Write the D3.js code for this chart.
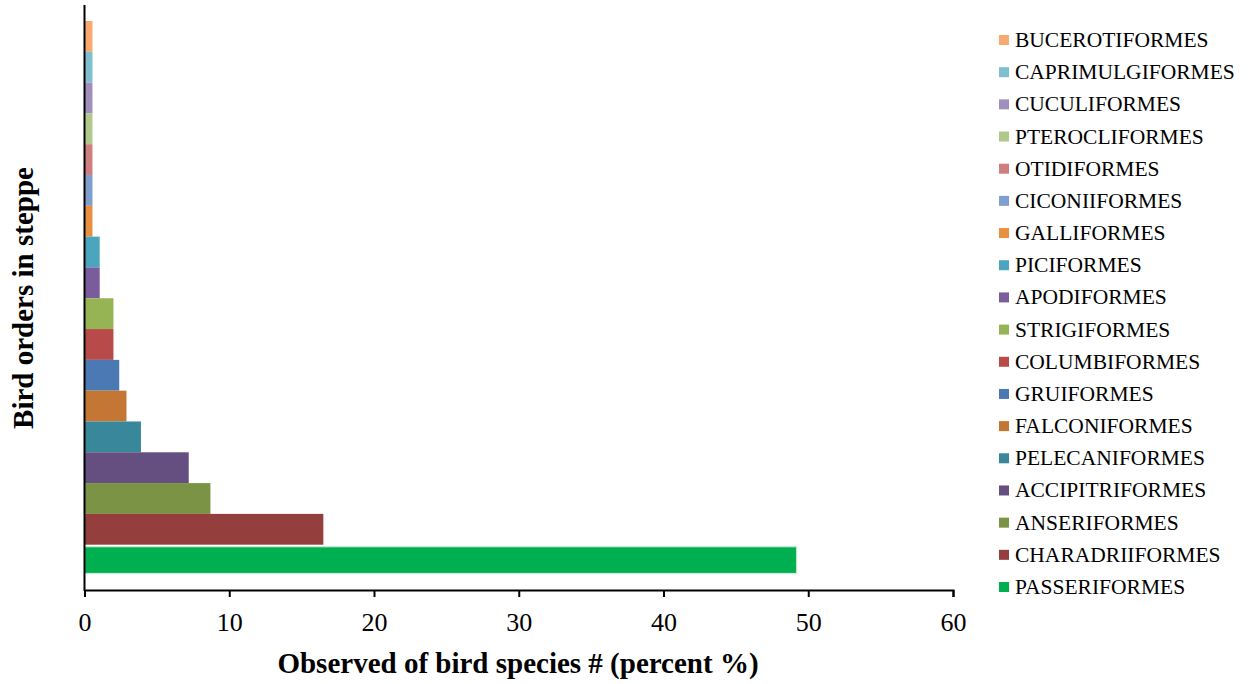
<!DOCTYPE html>
<html><head><meta charset="utf-8">
<script src="https://cdn.jsdelivr.net/npm/d3@7"></script>
<style>body{margin:0;background:#fff}svg{display:block}text{font-family:"Liberation Serif","Times New Roman",serif}</style>
</head><body><svg id="c" width="1255" height="684"></svg>
<script>
const categories = ["BUCEROTIFORMES","CAPRIMULGIFORMES","CUCULIFORMES","PTEROCLIFORMES","OTIDIFORMES","CICONIIFORMES","GALLIFORMES","PICIFORMES","APODIFORMES","STRIGIFORMES","COLUMBIFORMES","GRUIFORMES","FALCONIFORMES","PELECANIFORMES","ACCIPITRIFORMES","ANSERIFORMES","CHARADRIIFORMES","PASSERIFORMES"];
const values = [0.55,0.55,0.55,0.55,0.55,0.55,0.55,1.05,1.05,2.0,2.0,2.4,2.9,3.9,7.2,8.7,16.5,49.2];
const colors = ["#F9A870","#7FBFD0","#A08FBC","#B0C98A","#CF7F7F","#7F9FCF","#E98F40","#4BA5BE","#7A5C9C","#97B455","#B84A4A","#4A79B3","#C47734","#39879A","#644F80","#7A9344","#943E3D","#00B050"];
const xTicks = [0,10,20,30,40,50,60];

const svg = d3.select("#c");
const x = d3.scaleLinear().domain([0,60]).range([84.5,953]);
const y = d3.scaleBand().domain(categories).range([21,575.5]).padding(0);

// bars
svg.append("g").selectAll("rect").data(categories).join("rect")
  .attr("x", x(0))
  .attr("y", (d,i) => d==="PASSERIFORMES" ? y(d)+2 : y(d))
  .attr("width", (d,i) => x(values[i]) - x(0))
  .attr("height", d => d==="PASSERIFORMES" ? y.bandwidth()-4 : y.bandwidth())
  .attr("fill", (d,i) => colors[i])
  .attr("stroke", d => d==="PASSERIFORMES" ? "#c8ecd4" : "none")
  .attr("stroke-width", 1.2);

// x axis
const xa = svg.append("g").attr("transform","translate(0,590)")
  .call(d3.axisBottom(x).tickValues(xTicks).tickSize(7).tickFormat(d3.format("d")));
xa.select(".domain").attr("stroke","#000").attr("stroke-width",2);
xa.selectAll(".tick line").attr("stroke","#000").attr("stroke-width",2);
xa.selectAll(".tick text").attr("font-size",26).attr("y",41).attr("dy",null)
  .attr("font-family","Liberation Serif").attr("fill","#000");

// y axis line
svg.append("line").attr("x1",x(0)).attr("x2",x(0)).attr("y1",5).attr("y2",591)
  .attr("stroke","#000").attr("stroke-width",2);

// titles
svg.append("text").attr("x",518).attr("y",673).attr("text-anchor","middle")
  .attr("font-size",29).attr("font-weight","bold").text("Observed of bird species # (percent %)");
svg.append("text").attr("transform","translate(33,298) rotate(-90)").attr("text-anchor","middle")
  .attr("font-size",29).attr("font-weight","bold").text("Bird orders in steppe");

// legend
const lg = svg.append("g");
const ly = d3.scalePoint().domain(categories).range([40,587]);
lg.selectAll("rect").data(categories).join("rect")
  .attr("x",999).attr("y",d=>ly(d)-5).attr("width",10).attr("height",10)
  .attr("fill",(d,i)=>colors[i]);
lg.selectAll("text").data(categories).join("text")
  .attr("x",1015).attr("y",d=>ly(d)+7).attr("font-size",21.5).attr("fill","#000").text(d=>d);
</script></body></html>
